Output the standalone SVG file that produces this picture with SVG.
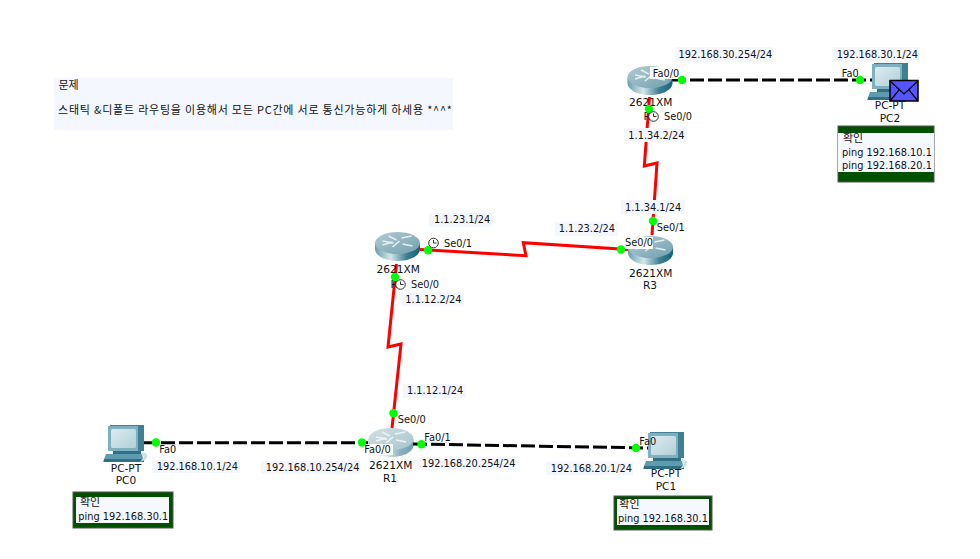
<svg xmlns="http://www.w3.org/2000/svg" width="980" height="559" viewBox="0 0 980 559">
<style>
text{font-family:"DejaVu Sans","Noto Sans CJK KR",sans-serif;font-size:9.8px;fill:#111}
.n{font-size:10.6px}
.c{text-anchor:middle}
.k{font-family:"Noto Sans CJK KR","DejaVu Sans",sans-serif;font-size:11px}
.lb{fill:#f5f7ff}
.wb{fill:#fff}
.eth{fill:none;stroke:#000;stroke-width:3;stroke-dasharray:14 4}
.ser{fill:none;stroke:#f00;stroke-width:3}
.dot{fill:#0f0}
.nb{fill:#005000;stroke:#555;stroke-width:1}
.ni{fill:#f6f8ff}
</style>
<defs>
<linearGradient id="rb" x1="0" x2="1" y1="0" y2="0"><stop offset="0" stop-color="#6a9fae"/><stop offset=".35" stop-color="#d3e6ea"/><stop offset=".7" stop-color="#3f8092"/><stop offset="1" stop-color="#176378"/></linearGradient>
<linearGradient id="rt" x1="0" x2="1" y1="0" y2="1"><stop offset="0" stop-color="#b5ccd4"/><stop offset="1" stop-color="#6f9fae"/></linearGradient>
<linearGradient id="ps" x1="0" x2="1" y1="0" y2="1"><stop offset="0" stop-color="#dcebf0"/><stop offset="1" stop-color="#b3cfd8"/></linearGradient>
<symbol id="router" overflow="visible">
<path d="M-22.5-3V3C-22.5 10-12 15 0 15S22.5 10 22.5 3V-3Z" fill="url(#rb)"/>
<ellipse cx="0" cy="-3" rx="22.5" ry="11" fill="url(#rt)"/>
<path d="M-15-5L-4-3M-15-1L-5-4M4-8L14-10M5-2L15 0M-9-10L-1-6M2-5L-5 1" stroke="#e4eef1" stroke-width="1.6" fill="none"/>
</symbol>
<symbol id="pc" overflow="visible">
<path d="M2 0H36V26H2Z" fill="#3f8094"/>
<path d="M0 1H30V26H0Z" fill="#7fb0c0"/>
<rect x="3" y="4" width="25" height="19" rx="1.5" fill="url(#ps)"/>
<path d="M5 26H33V29H5Z" fill="#2f7084"/>
<path d="M-2 29H34L36 37H-5Z" fill="#5f9bae"/>
<path d="M-4 34H36V37H-4Z" fill="#2f7084"/>
<path d="M33 28C40 27 41 32 37 35L32 37L36 32Z" fill="#cfe0e6"/>
</symbol>
<symbol id="clock" overflow="visible">
<circle r="4.8" fill="#fff" stroke="#333" stroke-width="1"/>
<path d="M0-3V0H3" fill="none" stroke="#333"/>
</symbol>
</defs>
<rect width="980" height="559" fill="#fff"/>
<g id="note-title">
<rect class="lb" x="54" y="78" width="399" height="52"/>
<text class="k" x="58.5" y="88.500">문제</text>
<text class="k" x="58" y="113.500" textLength="394" lengthAdjust="spacing">스태틱 &amp;디폴트 라우팅을 이용해서 모든 PC간에 서로 통신가능하게 하세용 *^^*</text>
</g>
<g id="connectors">
<path class="eth" d="M672 80H872"/>
<path class="eth" d="M143 442.7H368"/>
<path class="eth" d="M413 444L648 448"/>
<path class="ser" d="M649.5 97L644.3 166L657 163L652 235"/>
<path class="ser" d="M420 249.5L526 255.7L523.3 242.7L628 249.5"/>
<path class="ser" d="M396.5 264L388 347L401 344L392 428"/>
</g>
<g id="R2">
<use href="#router" x="650" y="80"/>
<text class="n" x="629" y="106">2621XM</text>
<text class="n" x="643.5" y="120">R</text>
</g>
<g id="R3">
<use href="#router" x="650.5" y="250"/>
<text class="n" x="629" y="276.7">2621XM</text>
<text class="n c" x="650" y="289.3">R3</text>
</g>
<g id="R4">
<use href="#router" x="397.5" y="246"/>
<text class="n" x="376.5" y="273.3">2621XM</text>
<text class="n" x="390.5" y="287.7">R</text>
</g>
<g id="R1">
<use href="#router" x="391" y="442" opacity=".6"/>
<text class="n" x="369" y="469">2621XM</text>
<text class="n c" x="390" y="481.7">R1</text>
</g>
<g id="PC0">
<use href="#pc" x="108" y="425"/>
<text class="n c" x="126" y="471.7">PC-PT</text>
<text class="n c" x="126" y="484.3">PC0</text>
</g>
<g id="PC1">
<use href="#pc" x="648" y="432"/>
<text class="n c" x="666" y="477.3">PC-PT</text>
<text class="n c" x="666" y="490">PC1</text>
</g>
<g id="PC2">
<use href="#pc" x="872" y="63"/>
<rect x="890" y="80.5" width="28" height="20.5" fill="#5555ff" stroke="#000" stroke-width="1.5"/>
<path d="M890 81L904 94L918 81M890 101L899 90M918 101L909 90" fill="none" stroke="#000" stroke-width="1.2"/>
<text class="n c" x="890" y="109.3">PC-PT</text>
<text class="n c" x="890" y="121.7">PC2</text>
</g>
<g id="port-labels">
<rect class="lb" x="675" y="47" width="98" height="15"/>
<rect class="lb" x="832" y="47" width="87" height="15"/>
<rect class="lb" x="624" y="128" width="63" height="14"/>
<rect class="lb" x="429" y="213" width="64" height="14"/>
<rect class="lb" x="555" y="222" width="63" height="14"/>
<rect class="lb" x="621" y="200" width="64" height="14"/>
<rect class="lb" x="401" y="292" width="63" height="14"/>
<rect class="lb" x="403" y="384" width="63" height="14"/>
<rect class="lb" x="152" y="460" width="87" height="13"/>
<rect class="lb" x="261" y="461" width="99" height="13"/>
<rect class="lb" x="417" y="457" width="99" height="13"/>
<rect class="lb" x="546" y="462" width="87" height="13"/>
<rect class="wb" x="650" y="67" width="31" height="12"/>
<rect class="wb" x="840" y="67" width="19" height="10"/>
<rect class="wb" x="364" y="444" width="29" height="11"/>
<rect class="wb" x="622" y="237" width="31" height="12"/>
<text x="678.5" y="58">192.168.30.254/24</text>
<text x="836.7" y="58">192.168.30.1/24</text>
<text x="652.7" y="76.7">Fa0/0</text>
<text x="841.7" y="76.7">Fa0</text>
<text x="664" y="120">Se0/0</text>
<text x="628.3" y="138.7">1.1.34.2/24</text>
<text x="625" y="210.7">1.1.34.1/24</text>
<text x="656.7" y="230.7">Se0/1</text>
<text x="625" y="246">Se0/0</text>
<text x="558.7" y="232.3">1.1.23.2/24</text>
<text x="434" y="223.3">1.1.23.1/24</text>
<text x="444" y="246.7">Se0/1</text>
<text x="411" y="287.7">Se0/0</text>
<text x="405.3" y="302.7">1.1.12.2/24</text>
<text x="407" y="394">1.1.12.1/24</text>
<text x="397.7" y="422.7">Se0/0</text>
<text x="159.3" y="452.7">Fa0</text>
<text x="156.7" y="470">192.168.10.1/24</text>
<text x="265.7" y="471">192.168.10.254/24</text>
<text x="364.3" y="452.7">Fa0/0</text>
<text x="424.3" y="440.7">Fa0/1</text>
<text x="421.7" y="466.7">192.168.20.254/24</text>
<text x="550.7" y="471.7">192.168.20.1/24</text>
<text x="639.3" y="445">Fa0</text>
</g>
<g id="port-dots">
<circle class="dot" cx="682" cy="80" r="4.2"/>
<circle class="dot" cx="860" cy="80" r="4.2"/>
<circle class="dot" cx="649" cy="109" r="4.2"/>
<circle class="dot" cx="653" cy="221" r="4.2"/>
<circle class="dot" cx="621" cy="249.5" r="4.2"/>
<circle class="dot" cx="428" cy="250.3" r="4.2"/>
<circle class="dot" cx="395" cy="277" r="4.2"/>
<circle class="dot" cx="393.5" cy="413.3" r="4.2"/>
<circle class="dot" cx="156" cy="442.5" r="4.2"/>
<circle class="dot" cx="362" cy="442.5" r="4.2"/>
<circle class="dot" cx="421.5" cy="444.3" r="4.2"/>
<circle class="dot" cx="636" cy="448" r="4.2"/>
<use href="#clock" x="653.5" y="116.5"/>
<use href="#clock" x="433.5" y="243"/>
<use href="#clock" x="400.5" y="284.5"/>
</g>
<g id="note-pc2">
<rect class="nb" x="838" y="126" width="96" height="56"/>
<rect class="ni" x="838" y="133" width="96" height="39"/>
<text class="k" x="843" y="141.7">확인</text>
<text x="842" y="156">ping 192.168.10.1</text>
<text x="842" y="169">ping 192.168.20.1</text>
</g>
<g id="note-pc0">
<rect class="nb" x="73" y="492" width="100" height="36"/>
<rect class="ni" x="76" y="497" width="93" height="26"/>
<text class="k" x="80" y="506">확인</text>
<text x="78.3" y="520">ping 192.168.30.1</text>
</g>
<g id="note-pc1">
<rect class="nb" x="614" y="496" width="98" height="34"/>
<rect class="ni" x="617" y="499" width="92" height="26"/>
<text class="k" x="619.3" y="508.3">확인</text>
<text x="618" y="521.7">ping 192.168.30.1</text>
</g>
</svg>
